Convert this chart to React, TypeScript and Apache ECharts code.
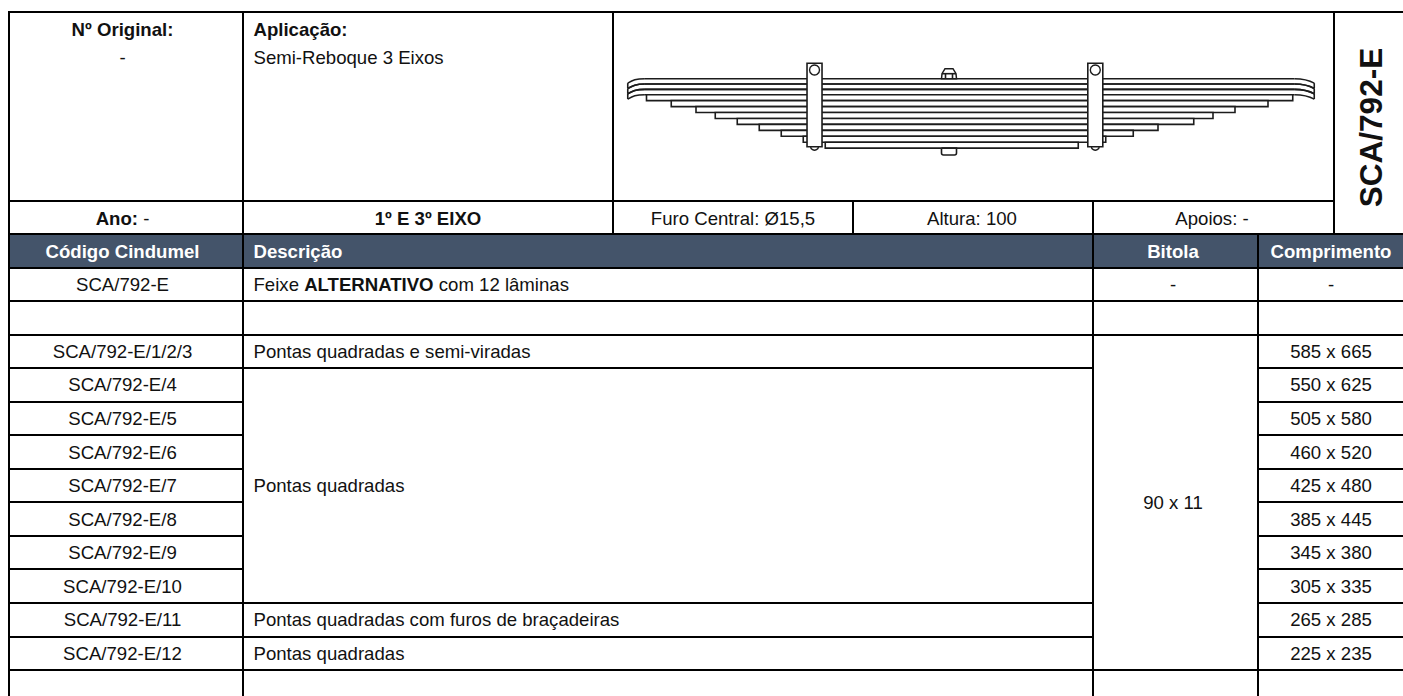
import React, { useEffect, useRef } from "react";
import * as echarts from "echarts";

// ---------- data ----------
const partCodes = [
  "SCA/792-E",
  "",
  "SCA/792-E/1/2/3",
  "SCA/792-E/4",
  "SCA/792-E/5",
  "SCA/792-E/6",
  "SCA/792-E/7",
  "SCA/792-E/8",
  "SCA/792-E/9",
  "SCA/792-E/10",
  "SCA/792-E/11",
  "SCA/792-E/12",
];
const leftLengths = [585, 550, 505, 460, 425, 385, 345, 305, 265, 225];
const rightLengths = [665, 625, 580, 520, 480, 445, 380, 335, 285, 235];
const firstLengthRow = 2;
const leavesInFirstRow = 3;
const leafThickness = [9.7, 9.7, 9.7, 10.8, 10.8, 10.8, 10.8, 10.8, 10.8, 10.8, 10.8, 10.8];
const headerLabels = ["Código Cindumel", "Descrição", "Bitola", "Comprimento"];
const infoLabels = ["Furo Central: Ø15,5", "Altura: 100", "Apoios: -"];

// ---------- layout ----------
const W = 1403;
const H = 696;
const FONT = '"Liberation Sans", Arial, sans-serif';
const INK = "#111111";
const NAVY = "#44546A";
const BODY_SIZE = 18.6;
const L = 9;
const C1 = 243;
const C2 = 613;
const C3 = 853;
const C4 = 1093;
const C5 = 1334;
const C6 = 1258;
const TOP = 12;
const Y_ANO = 201;
const Y_HEAD = 234;
const Y_ROW0 = 267.5;
const ROW_H = 33.55;
const rowLine = (i: number) => Math.round(Y_ROW0 + i * ROW_H);
const rowMid = (i: number) => Y_ROW0 + (i + 0.5) * ROW_H;
const PX_PER_MM = 0.55;
const SPRING_CX = 949;
const SPRING_TOP = 78.7;

type Cell = { x: number; y: number; text: string; align?: string; bold?: boolean; color?: string; size?: number; rot?: boolean };

const rules: number[][] = [
  [L - 1, TOP, W, TOP],
  [L - 1, Y_ANO, C5, Y_ANO],
  [L - 1, Y_HEAD, W, Y_HEAD],
  [L, TOP, L, H],
  [C1, TOP, C1, H],
  [C2, TOP, C2, Y_HEAD],
  [C3, Y_ANO, C3, Y_HEAD],
  [C4, Y_ANO, C4, Y_HEAD],
  [C5, TOP, C5, Y_HEAD],
  [C4, Y_HEAD, C4, H],
  [C6, Y_HEAD, C6, H],
];
for (let i = 0; i <= 12; i++) {
  const y = rowLine(i);
  rules.push([L, y, C1, y]);
  rules.push([C6, y, W, y]);
  if (i <= 3 || i >= 10) rules.push([C1, y, C4, y]);
  if (i <= 2 || i === 12) rules.push([C4, y, C6, y]);
}

const colA = 122.5;
const colB = 253.5;
const colC = 1173;
const colD = 1331;
const cells: Cell[] = [
  { x: colA, y: 29.5, text: "Nº Original:", bold: true },
  { x: colA, y: 57, text: "-" },
  { x: colB, y: 29.5, text: "Aplicação:", align: "left", bold: true },
  { x: colB, y: 57, text: "Semi-Reboque 3 Eixos", align: "left" },
  { x: 1371, y: 127.5, text: "SCA/792-E", bold: true, size: 31.5, rot: true },
  { x: colA, y: 218, text: "{b|Ano:}{r| -}" },
  { x: 428, y: 218, text: "1º E 3º EIXO", bold: true },
  { x: 733, y: 218, text: infoLabels[0] },
  { x: 972, y: 218, text: infoLabels[1] },
  { x: 1212, y: 218, text: infoLabels[2] },
  { x: colA, y: 251, text: headerLabels[0], bold: true, color: "#ffffff" },
  { x: colB, y: 251, text: headerLabels[1], bold: true, color: "#ffffff", align: "left" },
  { x: colC, y: 251, text: headerLabels[2], bold: true, color: "#ffffff" },
  { x: colD, y: 251, text: headerLabels[3], bold: true, color: "#ffffff" },
  { x: colB, y: rowMid(0), text: "{r|Feixe }{b|ALTERNATIVO}{r| com 12 lâminas}", align: "left" },
  { x: colC, y: rowMid(0), text: "-" },
  { x: colD, y: rowMid(0), text: "-" },
  { x: colB, y: rowMid(2), text: "Pontas quadradas e semi-viradas", align: "left" },
  { x: colB, y: rowMid(6), text: "Pontas quadradas", align: "left" },
  { x: colB, y: rowMid(10), text: "Pontas quadradas com furos de braçadeiras", align: "left" },
  { x: colB, y: rowMid(11), text: "Pontas quadradas", align: "left" },
  { x: colC, y: (rowLine(2) + rowLine(12)) / 2, text: "90 x 11" },
];
partCodes.forEach((code, i) => {
  if (code) cells.push({ x: colA, y: rowMid(i), text: code });
});
leftLengths.forEach((l, i) => {
  cells.push({ x: colD, y: rowMid(firstLengthRow + i), text: `${l} x ${rightLengths[i]}` });
});

// leaves: [left length, right length, top depth, bottom depth]
const leaves: number[][] = [];
{
  let depth = 0;
  leafThickness.forEach((t, i) => {
    const row = i < leavesInFirstRow ? 0 : i - leavesInFirstRow + 1;
    leaves.push([-leftLengths[row], rightLengths[row], depth, depth + t]);
    depth += t;
  });
}
const stackDepth = leafThickness.reduce((a, b) => a + b, 0);
const clipCentres = [-244.5, 266];

const STROKE = "#1c1c1c";
const lineStyle = { stroke: STROKE, lineWidth: 1.6, fill: "none" };

function renderLeaf(params: any, api: any) {
  const i = params.dataIndex;
  const a = api.coord([api.value(0), api.value(2)]);
  const b = api.coord([api.value(1), api.value(3)]);
  if (i >= leavesInFirstRow) {
    return {
      type: "rect",
      shape: { x: a[0], y: a[1], width: b[0] - a[0], height: b[1] - a[1] },
      style: { fill: "#ffffff", stroke: STROKE, lineWidth: 1.6 },
    };
  }
  const flatL = api.coord([-leftLengths[1] - 3, 0])[0];
  const flatR = api.coord([rightLengths[1] + 3, 0])[0];
  const curve = (y: number, x0: number, x1: number, dir: number) => ({
    type: "bezierCurve",
    shape: { x1: x0, y1: y, cpx1: x0 + dir * 9, cpy1: y, cpx2: x1 - dir * 5, cpy2: y + 1.6, x2: x1, y2: y + 4.4 },
    style: lineStyle,
  });
  const ends = [
    { type: "line", shape: { x1: flatL, y1: a[1], x2: flatR, y2: a[1] }, style: lineStyle },
    { type: "line", shape: { x1: flatL, y1: b[1], x2: flatR, y2: b[1] }, style: lineStyle },
    curve(a[1], flatL, a[0] + 0.5, -1),
    curve(b[1], flatL, a[0] + 0.5, -1),
    curve(a[1], flatR, b[0] - 0.5, 1),
    curve(b[1], flatR, b[0] - 0.5, 1),
    { type: "line", shape: { x1: a[0] + 0.5, y1: a[1] + 4.4, x2: a[0] + 0.5, y2: b[1] + 4.4 }, style: lineStyle },
    { type: "line", shape: { x1: b[0] - 0.5, y1: a[1] + 4.4, x2: b[0] - 0.5, y2: b[1] + 4.4 }, style: lineStyle },
  ];
  return { type: "group", children: ends };
}

function renderClip(_params: any, api: any) {
  const top = api.coord([api.value(0), 0]);
  const cx = top[0];
  const bottom = top[1] + 68;
  const upper = top[1] - 15.5;
  return {
    type: "group",
    children: [
      { type: "circle", shape: { cx, cy: bottom - 0.5, r: 4 }, style: { fill: "#ffffff", stroke: STROKE, lineWidth: 1.4 } },
      {
        type: "rect",
        shape: { x: cx - 7.5, y: upper, width: 15, height: bottom - upper },
        style: { fill: "#ffffff", stroke: STROKE, lineWidth: 1.6 },
      },
      { type: "circle", shape: { cx, cy: top[1] - 8.7, r: 5 }, style: { fill: "#ffffff", stroke: STROKE, lineWidth: 1.4 } },
    ],
  };
}

function renderBolt(_params: any, api: any) {
  const t = api.coord([api.value(0), 0]);
  const b = api.coord([api.value(0), stackDepth]);
  const cx = t[0];
  const head = [
    [cx - 7.5, t[1]],
    [cx - 7, t[1] - 5],
    [cx - 4, t[1] - 10],
    [cx + 4, t[1] - 10],
    [cx + 7, t[1] - 5],
    [cx + 7.5, t[1]],
  ];
  return {
    type: "group",
    children: [
      { type: "polygon", shape: { points: head }, style: { fill: "#ffffff", stroke: STROKE, lineWidth: 1.5 } },
      { type: "line", shape: { x1: cx - 7, y1: t[1] - 5, x2: cx + 7, y2: t[1] - 5 }, style: lineStyle },
      { type: "line", shape: { x1: cx - 3.5, y1: t[1] - 5, x2: cx - 3.5, y2: t[1] }, style: lineStyle },
      { type: "line", shape: { x1: cx + 3.5, y1: t[1] - 5, x2: cx + 3.5, y2: t[1] }, style: lineStyle },
      {
        type: "rect",
        shape: { x: cx - 7.5, y: b[1], width: 15, height: 6.8, r: [0, 0, 2, 2] },
        style: { fill: "#ffffff", stroke: STROKE, lineWidth: 1.6 },
      },
    ],
  };
}

function renderRule(_params: any, api: any) {
  const a = api.coord([api.value(0), api.value(1)]);
  const b = api.coord([api.value(2), api.value(3)]);
  return { type: "line", shape: { x1: a[0], y1: a[1], x2: b[0], y2: b[1] }, style: { stroke: "#000000", lineWidth: 2 } };
}

function renderBand(_params: any, api: any) {
  const a = api.coord([api.value(0), api.value(1)]);
  const b = api.coord([api.value(2), api.value(3)]);
  return { type: "rect", shape: { x: a[0], y: a[1], width: b[0] - a[0], height: b[1] - a[1] }, style: { fill: NAVY } };
}

function renderCell(params: any, api: any) {
  const c = cells[params.dataIndex];
  const p = api.coord([c.x, c.y]);
  const size = c.size ?? BODY_SIZE;
  return {
    type: "text",
    x: p[0],
    y: p[1],
    rotation: c.rot ? Math.PI / 2 : 0,
    style: {
      text: c.text,
      fill: c.color ?? INK,
      font: `${c.bold ? "bold " : ""}${size}px ${FONT}`,
      align: c.align ?? "center",
      verticalAlign: "middle",
      rich: {
        b: { fontFamily: FONT, fontSize: size, fontWeight: "bold", fill: INK },
        r: { fontFamily: FONT, fontSize: size, fill: INK },
      },
    },
  };
}

export default function App() {
  const ref = useRef<HTMLDivElement>(null);
  useEffect(() => {
    const chart = echarts.init(ref.current!, undefined, { renderer: "svg" });
    const common = { type: "custom", silent: true, clip: false, animation: false };
    const hidden = { show: false, type: "value" };
    chart.setOption({
      animation: false,
      backgroundColor: "#ffffff",
      grid: { left: 0, right: 0, top: 0, bottom: 0 },
      xAxis: [
        { ...hidden, min: 0, max: W },
        { ...hidden, min: -SPRING_CX / PX_PER_MM, max: (W - SPRING_CX) / PX_PER_MM },
      ],
      yAxis: [
        { ...hidden, min: 0, max: H, inverse: true },
        { ...hidden, min: -SPRING_TOP / PX_PER_MM, max: (H - SPRING_TOP) / PX_PER_MM, inverse: true },
      ],
      series: [
        { ...common, renderItem: renderBand, data: [[L, Y_HEAD, W, Y_ROW0]], encode: { x: [0, 2], y: [1, 3] } },
        { ...common, renderItem: renderRule, data: rules, encode: { x: [0, 2], y: [1, 3] } },
        { ...common, xAxisIndex: 1, yAxisIndex: 1, renderItem: renderLeaf, data: leaves, encode: { x: [0, 1], y: [2, 3] } },
        { ...common, xAxisIndex: 1, yAxisIndex: 1, renderItem: renderBolt, data: [[0]], encode: { x: 0 } },
        { ...common, xAxisIndex: 1, yAxisIndex: 1, renderItem: renderClip, data: clipCentres.map((c) => [c]), encode: { x: 0 } },
        { ...common, renderItem: renderCell, data: cells.map((c) => [c.x, c.y]), encode: { x: 0, y: 1 } },
      ],
    });
    return () => chart.dispose();
  }, []);
  return <div ref={ref} style={{ position: "absolute", left: 0, top: 0, width: W, height: H }} />;
}
